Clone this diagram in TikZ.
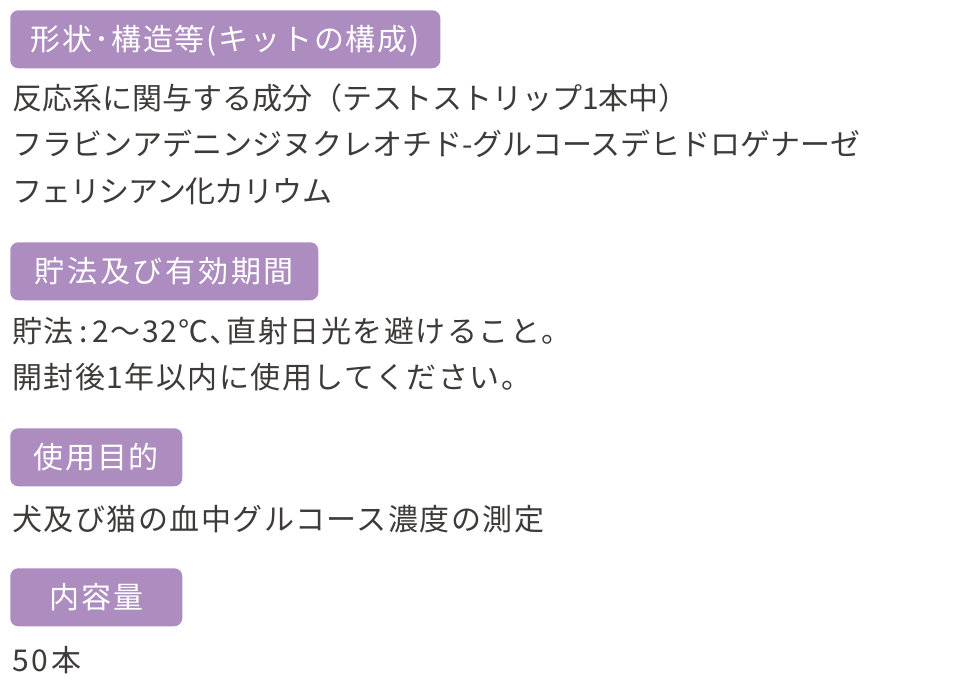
\documentclass[tikz,border=0pt]{standalone}
\usepackage{fontspec}
\setmainfont{Noto Sans CJK JP}
\newfontfamily\hdfont[LetterSpace=6]{Noto Sans CJK JP}
\newfontfamily\hdwide[LetterSpace=9]{Noto Sans CJK JP}
\newfontfamily\bdtight[LetterSpace=-3]{Noto Sans CJK JP}
\newfontfamily\bdwideA[LetterSpace=5]{Noto Sans CJK JP}
\newfontfamily\bdwideB[LetterSpace=5]{Noto Sans CJK JP}
\newfontfamily\bdwideC[LetterSpace=10]{Noto Sans CJK JP}
\definecolor{hdpurple}{HTML}{AD8CC0}
\definecolor{bodytext}{HTML}{3E3A39}
\begin{document}
\begin{tikzpicture}[x=0.75pt,y=-0.75pt,
  hdr/.style={fill=hdpurple, rounded corners=6pt, text=white,
    font=\hdfont\fontsize{22.5}{27}\selectfont, minimum height=43.5pt,
    inner sep=0pt, text height=19.8pt, text depth=2.7pt, anchor=north west},
  body/.style={text=bodytext, font=\fontsize{22.5}{27}\selectfont,
    inner sep=0pt, anchor=base west}]
\useasboundingbox (0,0) rectangle (960,688);
% section 1
\node[hdr, minimum width=322.5pt] (h1) at (10,10) {形状･構造等(キットの構成)};
\node[body] (t1a) at (12,110) {反応系に関与する成分（テストストリップ1本中）};
\node[body] (t1b) at (12,156) {フラビンアデニンジヌクレオチド-グルコースデヒドロゲナーゼ};
\node[body, font=\bdtight\fontsize{22.5}{27}\selectfont] (t1c) at (12,203) {フェリシアン化カリウム};
% section 2
\node[hdr, minimum width=231pt, font=\hdwide\fontsize{22.5}{27}\selectfont] (h2) at (10,242) {貯法及び有効期間};
\node[body, font=\bdwideA\fontsize{22.5}{27}\selectfont] (t2a) at (12,342) {貯法\kern4pt:\kern4pt2〜32℃､直射日光を避けること。};
\node[body, font=\bdwideA\fontsize{22.5}{27}\selectfont] (t2b) at (12,388) {開封後1年以内に使用してください。};
% section 3
\node[hdr, minimum width=129pt] (h3) at (10,428) {使用目的};
\node[body, font=\bdwideB\fontsize{22.5}{27}\selectfont] (t3a) at (12,530) {犬及び猫の血中グルコース濃度の測定};
% section 4
\node[hdr, minimum width=129pt] (h4) at (10,568) {内容量};
\node[body, font=\bdwideC\fontsize{22.5}{27}\selectfont] (t4a) at (12,671) {50本};
\end{tikzpicture}
\end{document}
